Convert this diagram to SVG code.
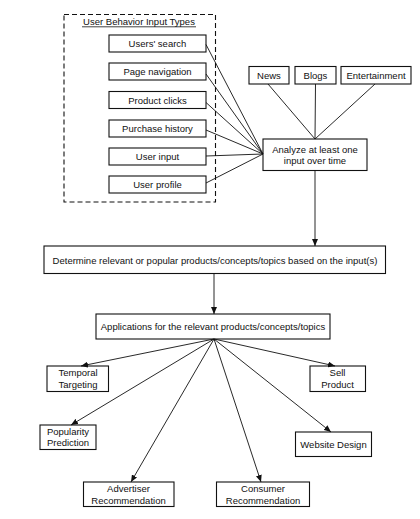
<svg xmlns="http://www.w3.org/2000/svg" width="420" height="519" viewBox="0 0 420 519">
<style>
text{font-family:"Liberation Sans",Arial,sans-serif;font-size:9.5px;fill:#111;text-anchor:middle}
.b{fill:#fff;stroke:#111;stroke-width:1.1}
.c line{stroke:#111;stroke-width:0.9}
.a{marker-end:url(#ah)}
</style>
<defs>
<marker id="ah" markerWidth="7" markerHeight="6" refX="7" refY="3" orient="auto" markerUnits="userSpaceOnUse">
<path d="M0,0 L7,3 L0,6 Z" fill="#111"/>
</marker>
</defs>
<rect width="420" height="519" fill="#fff"/>
<g id="inputTypes">
<rect x="64" y="14.5" width="151.5" height="187.5" fill="none" stroke="#111" stroke-width="1.1" stroke-dasharray="5,3"/>
<text x="139" y="25">User Behavior Input Types</text>
<line x1="82" y1="26.8" x2="196" y2="26.8" stroke="#111" stroke-width="0.8"/>
</g>
<g id="usersSearch"><rect class="b" x="109" y="35" width="97" height="17"/><text x="157.5" y="47">Users' search</text></g>
<g id="pageNav"><rect class="b" x="109" y="63" width="97" height="17"/><text x="157.5" y="75">Page navigation</text></g>
<g id="productClicks"><rect class="b" x="109" y="91.5" width="97" height="17"/><text x="157.5" y="103.5">Product clicks</text></g>
<g id="purchaseHistory"><rect class="b" x="109" y="120" width="97" height="17"/><text x="157.5" y="132">Purchase history</text></g>
<g id="userInput"><rect class="b" x="109" y="148" width="97" height="17"/><text x="157.5" y="160">User input</text></g>
<g id="userProfile"><rect class="b" x="109" y="176" width="97" height="17"/><text x="157.5" y="188">User profile</text></g>
<g id="news"><rect class="b" x="249" y="66.5" width="40" height="17.5"/><text x="269" y="78.5">News</text></g>
<g id="blogs"><rect class="b" x="295" y="66.5" width="41" height="17.5"/><text x="315.5" y="78.5">Blogs</text></g>
<g id="entertainment"><rect class="b" x="341" y="66.5" width="70" height="17.5"/><text x="376" y="78.5">Entertainment</text></g>
<g id="analyze"><rect class="b" x="263" y="139" width="104" height="31.5"/><text x="315" y="152.5">Analyze at least one</text><text x="315" y="164">input over time</text></g>
<g id="determine"><rect class="b" x="44" y="246" width="341.5" height="27.5"/><text x="215" y="263.5">Determine relevant or popular products/concepts/topics based on the input(s)</text></g>
<g id="applications"><rect class="b" x="96" y="314" width="234" height="25"/><text x="213" y="329.5">Applications for the relevant products/concepts/topics</text></g>
<g id="temporal"><rect class="b" x="47" y="366" width="61.5" height="25.5"/><text x="78" y="376">Temporal</text><text x="78" y="387.5">Targeting</text></g>
<g id="sell"><rect class="b" x="310" y="366" width="55.5" height="25.5"/><text x="337.5" y="376">Sell</text><text x="337.5" y="387.5">Product</text></g>
<g id="popularity"><rect class="b" x="40" y="425" width="56" height="24.5"/><text x="68" y="435">Popularity</text><text x="68" y="446">Prediction</text></g>
<g id="website"><rect class="b" x="295.5" y="432" width="76" height="24.5"/><text x="333.5" y="447.5">Website Design</text></g>
<g id="advertiser"><rect class="b" x="83.5" y="482" width="90.5" height="24.5"/><text x="128.5" y="491.5">Advertiser</text><text x="128.5" y="503.5">Recommendation</text></g>
<g id="consumer"><rect class="b" x="216.5" y="482" width="93" height="24.5"/><text x="263" y="491.5">Consumer</text><text x="263" y="503.5">Recommendation</text></g>
<g class="c" id="connectors">
<line x1="206" y1="44.5" x2="263" y2="154"/>
<line x1="206" y1="74" x2="263" y2="154"/>
<line x1="206" y1="102.5" x2="263" y2="154"/>
<line x1="206" y1="130" x2="263" y2="154"/>
<line x1="206" y1="156" x2="263" y2="154"/>
<line x1="206" y1="183" x2="263" y2="154"/>
<line x1="268" y1="84" x2="315" y2="139"/>
<line x1="315.5" y1="84" x2="315" y2="139"/>
<line x1="375" y1="84" x2="315" y2="139"/>
<line class="a" x1="315" y1="170.5" x2="315" y2="246"/>
<line class="a" x1="214" y1="273.5" x2="214" y2="314"/>
<line class="a" x1="214" y1="339" x2="81" y2="366"/>
<line class="a" x1="214" y1="339" x2="335" y2="366"/>
<line class="a" x1="214" y1="339" x2="71" y2="425"/>
<line class="a" x1="214" y1="339" x2="331" y2="432"/>
<line class="a" x1="214" y1="339" x2="131" y2="482"/>
<line class="a" x1="214" y1="339" x2="261" y2="482"/>
</g>
</svg>
